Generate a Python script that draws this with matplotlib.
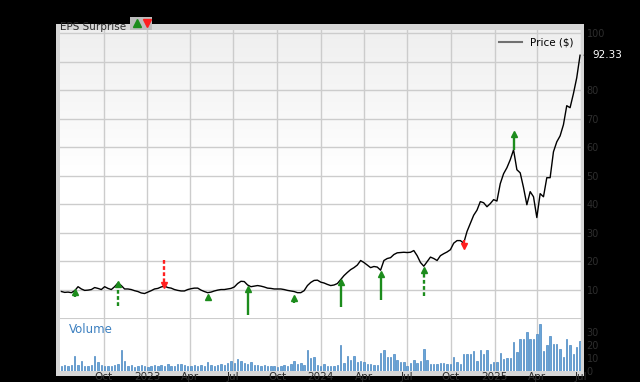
import matplotlib.pyplot as plt
import matplotlib.dates as mdates
from matplotlib.patches import Rectangle
from matplotlib.lines import Line2D
from matplotlib.colors import LinearSegmentedColormap
import numpy as np
import pandas as pd

# ---------------- data (weekly) ----------------
dates = pd.date_range('2022-07-04', periods=157, freq='7D')

price = [9.3, 9.0, 9.1, 8.9, 9.6, 11.0, 10.2, 9.7, 9.8, 10.0,
         10.7, 10.4, 10.0, 11.0, 10.4, 10.0, 11.0, 12.3, 11.4, 10.2,
         10.2, 10.0, 9.6, 9.3, 8.8, 8.6, 9.1, 9.6, 10.2, 10.4,
         10.9, 11.2, 10.7, 10.5, 10.0, 9.7, 9.5, 9.5, 10.0, 10.3,
         10.5, 10.5, 9.8, 9.3, 8.9, 9.1, 9.5, 9.8, 10.0, 10.0,
         10.2, 10.4, 10.9, 12.1, 12.9, 12.8, 11.6, 11.0, 11.2, 11.4,
         11.2, 10.9, 10.5, 10.4, 10.2, 10.2, 10.2, 10.0, 9.7, 9.5,
         9.3, 8.9, 8.9, 9.6, 11.4, 12.5, 13.2, 13.3, 12.6, 12.3,
         11.8, 11.4, 11.6, 12.1, 13.5, 14.9, 16.0, 17.0, 17.7, 18.6,
         20.2, 19.5, 18.6, 17.7, 18.1, 17.9, 16.8, 20.2, 20.9, 21.2,
         22.3, 22.9, 23.0, 23.1, 23.0, 23.1, 23.7, 21.9, 19.5, 18.2,
         19.8, 21.4, 20.9, 20.2, 21.9, 22.6, 23.2, 24.0, 26.3, 27.2,
         27.2, 26.3, 30.4, 33.2, 36.1, 37.9, 40.9, 40.5, 39.1, 40.2,
         41.6, 41.1, 47.2, 50.7, 52.8, 55.6, 59.1, 52.1, 51.0, 45.8,
         39.8, 44.4, 42.6, 35.3, 43.7, 42.6, 49.3, 49.3, 58.4, 61.9,
         64.0, 67.9, 74.6, 73.9, 78.8, 84.4, 92.33]

volume = [5, 6, 5, 6, 15, 6, 10, 5, 5, 6,
          15, 9, 6, 5, 5, 5, 6, 7, 21, 10,
          5, 6, 4, 5, 6, 5, 4, 5, 6, 5,
          6, 5, 7, 5, 5, 7, 7, 6, 5, 5,
          6, 5, 6, 5, 9, 6, 5, 6, 7, 6,
          8, 10, 8, 12, 10, 8, 7, 9, 6, 6,
          5, 6, 5, 5, 5, 4, 5, 6, 5, 7,
          10, 7, 8, 6, 21, 13, 14, 6, 5, 7,
          5, 5, 5, 6, 26, 8, 15, 11, 15, 9,
          10, 9, 7, 7, 6, 6, 18, 21, 14, 14,
          17, 11, 9, 9, 5, 8, 11, 8, 10, 22,
          11, 7, 7, 7, 8, 8, 7, 7, 14, 9,
          7, 17, 17, 17, 20, 10, 21, 17, 21, 7,
          9, 9, 18, 12, 13, 13, 29, 19, 32, 32,
          39, 32, 32, 37, 47, 20, 26, 35, 27, 27,
          22, 14, 32, 26, 17, 24, 30]

# EPS surprise arrows: week index, arrow tip, arrow tail, beat?, dashed?
eps_week = [4, 17, 31, 44, 56, 70, 84, 96, 109, 121, 136]
eps_tip = [10.0, 12.6, 10.8, 8.2, 11.05, 7.9, 13.5, 16.1, 17.6, 24.6, 65.4]
eps_tail = [7.4, 4.1, 20.5, 5.9, 1.2, 5.4, 3.9, 6.5, 7.6, 27.5, 59.1]
eps_beat = [True, True, False, True, True, True, True, True, True, False, True]
eps_dashed = [False, True, True, False, False, False, False, False, True, False, False]

price_ticks = [10, 20, 30, 40, 50, 60, 70, 80, 90, 100]
price_tick_labels = ['10', '20', '30', '40', '50', '60', '70', '80', '', '100']
vol_ticks = [0, 13, 26, 39]
vol_tick_labels = ['0', '10', '20', '30']
quarter_labels = ['Oct', '2023', 'Apr', 'Jul', 'Oct', '2024', 'Apr', 'Jul',
                  'Oct', '2025', 'Apr', 'Jul']
quarter_dates = pd.date_range('2022-10-01', periods=12, freq='QS')

GREEN = '#1c8c1c'
RED = '#ff1f1f'
GRID = '#cccccc'
LABEL = '#2e2e2e'

# ---------------- figure ----------------
W, H = 640, 382
fig = plt.figure(figsize=(W / 100, H / 100), dpi=100, facecolor='black')


def fx(px):
    return px / W


def fy(py):
    return 1 - py / H


# gray frame behind the panels (header band, side strips, date strip)
frame = Rectangle((fx(56), fy(376)), fx(584 - 56), (376 - 24) / H,
                  transform=fig.transFigure, facecolor='#d6d6d6',
                  edgecolor='none', zorder=-5)
fig.add_artist(frame)

ax = fig.add_axes([fx(60), fy(318), fx(521), (318 - 30) / H], zorder=2)
axv = fig.add_axes([fx(60), fy(371), fx(521), (371 - 318) / H], sharex=ax, zorder=1)

xmin, xmax = pd.Timestamp('2022-07-01'), pd.Timestamp('2025-07-02')

# background gradient for price panel
grad = np.linspace(0, 1, 256).reshape(-1, 1)
bg_cmap = LinearSegmentedColormap.from_list('bg', ['#ffffff', '#ffffff', '#efefef'])
ax.imshow(grad, extent=[mdates.date2num(xmin), mdates.date2num(xmax), 0, 101.2],
          aspect='auto', cmap=bg_cmap, origin='lower', zorder=0)

ax.plot(dates, price, color='black', lw=1.0, zorder=3)

for w, tip, tail, beat, dashed in zip(eps_week, eps_tip, eps_tail, eps_beat, eps_dashed):
    d = dates[w]
    col = GREEN if beat else RED
    ls = (0, (1.6, 1.0)) if dashed else '-'
    head = 1.3
    if beat:
        ax.vlines(d, tail, tip - head, color=col, lw=1.7, linestyles=ls, zorder=4)
        ax.plot(d, tip - head * 0.6, marker='^', ms=4.3, color=col, mec=col, zorder=5)
    else:
        ax.vlines(d, tail, tip + head, color=col, lw=1.7, linestyles=ls, zorder=4)
        ax.plot(d, tip + head * 0.6, marker='v', ms=4.3, color=col, mec=col, zorder=5)

ax.set_xlim(xmin, xmax)
ax.set_ylim(0, 101.2)
ax.set_yticks(price_ticks)
ax.set_yticklabels(price_tick_labels)
ax.yaxis.tick_right()
ax.tick_params(axis='y', length=0, labelsize=7, colors=LABEL, pad=4)
ax.tick_params(axis='x', length=0, labelbottom=False)
ax.set_xticks(quarter_dates)
ax.grid(True, color=GRID, lw=1, zorder=1)
for s in ax.spines.values():
    s.set_visible(False)

handle = Line2D([], [], color='#707070', lw=1.5)
ax.legend([handle], ['Price ($)'], loc='upper right', frameon=False, fontsize=7.5,
          handlelength=2.2, borderaxespad=0.3)

ax.annotate('92.33', xy=(dates[-1], price[-1]), xytext=(9, 0),
            textcoords='offset points', va='center', ha='left', color='white',
            fontsize=7.5, annotation_clip=False,
            bbox=dict(boxstyle='larrow,pad=0.25', fc='black', ec='black'))

# volume panel
axv.set_facecolor('white')
axv.bar(dates, volume, width=3.0, color='#6aa5d8', edgecolor='#4a88c2', lw=0.5, zorder=3)
axv.set_ylim(0, 53)
axv.set_yticks(vol_ticks)
axv.set_yticklabels(vol_tick_labels)
axv.yaxis.tick_right()
axv.tick_params(axis='y', length=0, labelsize=7, colors=LABEL, pad=4)
axv.set_xticks(quarter_dates)
axv.set_xticklabels(quarter_labels)
axv.tick_params(axis='x', length=0, labelsize=7.5, colors=LABEL, pad=1)
axv.grid(True, axis='x', color=GRID, lw=1)
axv.set_axisbelow(True)
for s in axv.spines.values():
    s.set_visible(False)
axv.spines['top'].set_visible(True)
axv.spines['top'].set_color(GRID)
axv.text(0.018, 0.78, 'Volume', transform=axv.transAxes, color='#3d80c0',
         fontsize=8.5, va='center')

# header: EPS surprise legend
fig.text(fx(60), fy(27), 'EPS Surprise', color='#2a2a2a', fontsize=7.5, va='center')
fig.add_artist(Rectangle((fx(130), fy(30)), fx(22), 13 / H, transform=fig.transFigure,
                         facecolor='#bdbdbd', edgecolor='none', zorder=1))
fig.add_artist(Line2D([fx(137)], [fy(23)], marker='^', ms=6, color=GREEN,
                      transform=fig.transFigure, zorder=2))
fig.add_artist(Line2D([fx(147)], [fy(23)], marker='v', ms=6, color=RED,
                      transform=fig.transFigure, zorder=2))

fig.savefig('out.png', dpi=100, facecolor='black')
